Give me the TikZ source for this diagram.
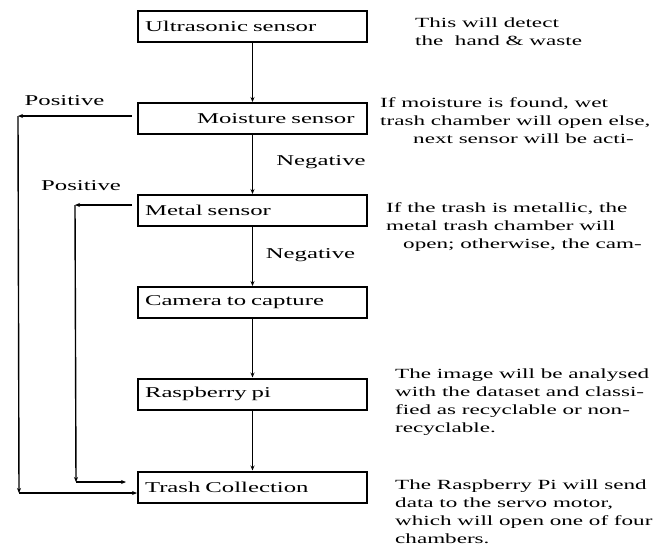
\documentclass[tikz,border=0pt]{standalone}
\usepackage{fontspec}
\setmainfont{Liberation Serif}[FakeStretch=1.65]
\usetikzlibrary{arrows.meta}

\begin{document}
\begin{tikzpicture}[x=1pt, y=-1pt, >={Stealth[length=5pt,width=4pt]},
  box/.style = {draw, line width=2pt, minimum height=31pt, text width=215pt,
                inner xsep=7pt, align=left, font=\fontsize{15}{18}\selectfont},
  lbl/.style = {font=\fontsize{15}{18}\selectfont, inner sep=0pt, anchor=base},
  note/.style = {font=\fontsize{14}{18}\selectfont, inner sep=0pt, anchor=base west, align=left},
  link/.style = {line width=1.4pt, ->}]
  \useasboundingbox (0,0) rectangle (653,547);

  % main chain
  \node[box] (ultra) at (252.5,26.5) {Ultrasonic sensor};
  \node[box] (moist) at (252.5,118.5) {\hspace*{52pt}Moisture sensor};
  \node[box] (metal) at (252.5,210.5) {Metal sensor};
  \node[box] (camera) at (252.5,302.5) {Camera to capture};
  \node[box] (rasp) at (252.5,394) {Raspberry pi};
  \node[box] (trash) at (252.5,487) {Trash Collection};

  \draw[link] (ultra) -- (moist);
  \draw[link] (moist) -- (metal);
  \draw[link] (metal) -- (camera);
  \draw[link] (camera) -- (rasp);
  \draw[link] (rasp) -- (trash);

  % positive branches
  \coordinate (wetTop) at (18,116);
  \coordinate (wetLow) at (19,493);
  \coordinate (metTop) at (75,205);
  \coordinate (metLow) at (76,482);
  \coordinate (metEnd) at (126,482);
  \draw[link] ([xshift=-5pt]moist.west |- wetTop) -- (wetTop);
  \draw[link] (wetTop) -- (wetLow);
  \draw[link] (wetLow) -- (wetLow -| trash.west);
  \draw[link] ([xshift=-5pt]metal.west |- metTop) -- (metTop);
  \draw[link] (metTop) -- (metLow);
  \draw[link] (metLow) -- (metEnd);

  \node[lbl] (pos1) at (64.5,105) {Positive};
  \node[lbl] (pos2) at (81,190) {Positive};
  \node[lbl] (neg1) at (321,165) {Negative};
  \node[lbl] (neg2) at (310.5,258) {Negative};

  % notes on the right (placed at the baseline of their last line)
  \node[note] (ultraNote) at (415,45) {This will detect\\the\ \ hand \& waste};
  \node[note] (moistNote) at (380,143) {If moisture is found, wet\\trash chamber will open else,\\\hspace*{33pt}next sensor will be acti-};
  \node[note] (metalNote) at (386,248) {If the trash is metallic, the\\metal trash chamber will\\\hspace*{17pt}open; otherwise, the cam-};
  \node[note] (raspNote) at (395,432) {The image will be analysed\\with the dataset and classi-\\fied as recyclable or non-\\recyclable.};
  \node[note] (trashNote) at (395,543) {The Raspberry Pi will send\\data to the servo motor,\\which will open one of four\\chambers.};
\end{tikzpicture}
\end{document}
